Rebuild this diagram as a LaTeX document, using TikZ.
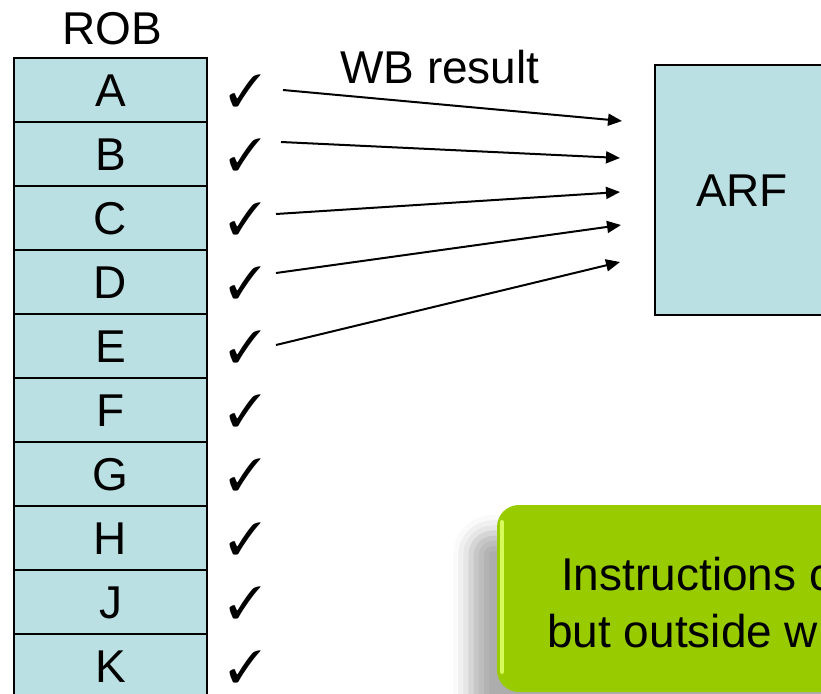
\documentclass[tikz,border=0pt]{standalone}
\usepackage{fontspec}
\setmainfont{Liberation Sans}
\usepackage{pifont}
\usetikzlibrary{arrows.meta,shadows.blur}
\definecolor{cellblue}{RGB}{187,224,227}
\definecolor{notegreen}{RGB}{153,204,0}
\definecolor{notehi}{RGB}{214,250,90}
\tikzset{
  big/.style={font=\fontsize{46}{52}\selectfont},
  robcell/.style={draw=black,line width=2pt,fill=cellblue,minimum width=193pt,minimum height=64pt,inner sep=0pt,
    big,text height=33pt,text depth=0pt,anchor=center},
  tick/.style={font=\fontsize{45}{45}\selectfont,inner sep=0pt,anchor=center},
  wb/.style={line width=2pt,-{Triangle[length=14pt,width=12pt]}},
  plain/.style={big,inner sep=0pt}
}
\begin{document}
\begin{tikzpicture}[x=1pt,y=-1pt]
\useasboundingbox (0,0) rectangle (821,693);
\clip (0,0) rectangle (821,693);
\node[plain,anchor=base] (rob) at (112,45) {ROB};
\foreach \l [count=\i from 0] in {A,B,C,D,E,F,G,H,J,K}{
  \node[robcell] (c\i) at (110.5,{90+64*\i}) {\l};
  \node[tick] (t\i) at (245,{91+64*\i}) {\ding{51}};
}
\node[draw=black,line width=2pt,fill=cellblue,minimum width=174pt,minimum height=250pt,anchor=north west,inner sep=0pt,big,text height=33pt,text depth=0pt] (arf) at (654,64) {ARF};
\node[plain,anchor=base west] (wbl) at (340,83) {WB result};
\coordinate (s0) at (283,90);  \coordinate (e0) at (622,121);
\coordinate (s1) at (281,142); \coordinate (e1) at (620,158);
\coordinate (s2) at (276,214); \coordinate (e2) at (620,192);
\coordinate (s3) at (276,273); \coordinate (e3) at (621,225);
\coordinate (s4) at (276,345); \coordinate (e4) at (620,262);
\foreach \i in {0,...,4}{\draw[wb] (s\i) -- (e\i);}
\fill[notegreen,rounded corners=22pt,blur shadow={shadow xshift=-26pt,shadow yshift=-28pt,shadow blur radius=18pt,shadow opacity=32}] (497,505) rectangle (1000,692);
\draw[notehi,line width=4pt,line cap=round] (502,522) -- (502,672);
\node[plain,anchor=base west] (n1) at (561,590) {Instructions c};
\node[plain,anchor=base west] (n2) at (547,647) {but outside w};
\end{tikzpicture}
\end{document}
